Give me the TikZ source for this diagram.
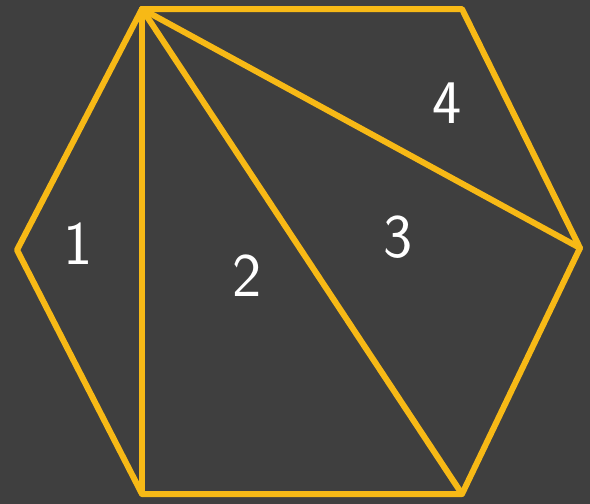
\documentclass[tikz,border=0pt]{standalone}
\usepackage{xcolor}
\usepackage{tikz}
\usetikzlibrary{calc}

\definecolor{bgdark}{HTML}{3F3F3F}
\definecolor{edgegold}{HTML}{F7B916}

\begin{document}
\begin{tikzpicture}[x=1pt, y=-1pt,
  edge/.style={draw=edgegold, line width=6pt, line join=round, line cap=round},
  num/.style={text=white, font=\fontsize{62}{62}\selectfont\sffamily, inner sep=0pt}]

% background and bounding box
\fill[bgdark] (0,0) rectangle (590,504);
\useasboundingbox (0,0) rectangle (590,504);

% hexagon corners
\coordinate (tl) at (142,9);
\coordinate (tr) at (462,9);
\coordinate (r)  at (580,248);
\coordinate (br) at (462,494);
\coordinate (bl) at (142,494);
\coordinate (l)  at (17,250);

\draw[edge] (tl) -- (tr) -- (r) -- (br) -- (bl) -- (l) -- cycle;

% fan of diagonals
\draw[edge] (tl) -- (bl);
\draw[edge] (tl) -- (br);
\draw[edge] (tl) -- (r);

% region numbers
\node[num] (n1) at (78,244) {1};
\node[num] (n2) at (247,276) {2};
\node[num] (n3) at (398,237) {3};
\node[num] (n4) at (447,103) {4};
\end{tikzpicture}
\end{document}
